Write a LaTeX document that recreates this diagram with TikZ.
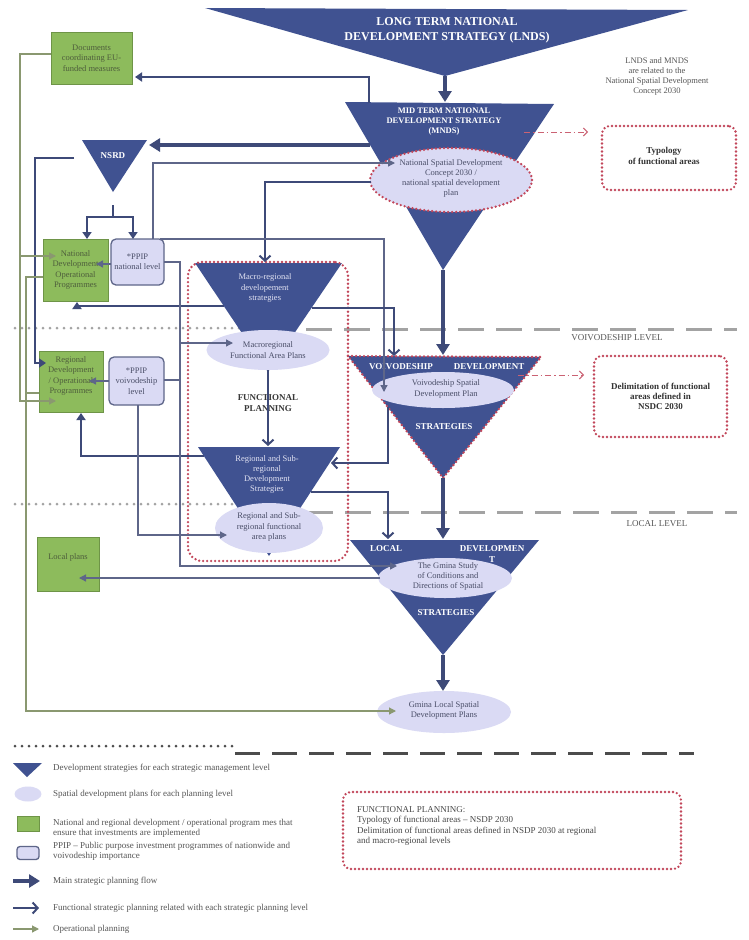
\documentclass[tikz,border=0pt]{standalone}
\usepackage{fontspec}
\setmainfont{Liberation Serif}
\usetikzlibrary{arrows.meta,shapes.geometric}
\definecolor{tri}{HTML}{405291}
\definecolor{navy}{HTML}{3E4A78}
\definecolor{slate}{HTML}{5E6689}
\definecolor{olive}{HTML}{8A9870}
\definecolor{lav}{HTML}{DADAF4}
\definecolor{grn}{HTML}{8DBB5C}
\definecolor{grnb}{HTML}{6E9447}
\definecolor{grntxt}{HTML}{4E5E3C}
\definecolor{redd}{HTML}{C2465A}
\definecolor{lvl}{HTML}{A3A3A3}
\definecolor{tritxt}{HTML}{E2E3F3}
\definecolor{elltxt}{HTML}{4A4E68}
\definecolor{graytxt}{HTML}{555555}
\begin{document}
\begin{tikzpicture}[x=1pt,y=-1pt,
  trifill/.style={fill=tri,draw=none},
  tritext/.style={text=tritxt,font=\fontsize{8.5}{10.3}\selectfont,align=center,inner sep=0pt},
  tribold/.style={text=white,font=\bfseries\fontsize{9}{10}\selectfont,align=center,inner sep=0pt},
  ell/.style={ellipse,fill=lav,draw=none,inner sep=0pt},
  elltext/.style={text=elltxt,font=\fontsize{8.5}{10.3}\selectfont,align=center,inner sep=0pt},
  grnbox/.style={rectangle,fill=grn,draw=grnb,line width=0.8pt,inner sep=0pt,text=grntxt,font=\fontsize{8.5}{10.3}\selectfont,align=center},
  ppipbox/.style={rectangle,rounded corners=5pt,fill=lav,draw=slate,line width=1.3pt,inner sep=0pt,text=elltxt,font=\fontsize{8.5}{10.3}\selectfont,align=center},
  reddot/.style={draw=redd,line width=2.6pt,dash pattern=on 0pt off 4pt,line cap=round},
  mainarr/.style={draw=navy,line width=3.6pt,-{Triangle[length=11pt,width=13pt]}},
  medarr/.style={draw=navy,line width=2pt,-{Triangle[length=7pt,width=9pt]}},
  funcarr/.style={draw=navy,line width=2pt,-{Straight Barb[length=5pt,width=11pt,line width=2pt]}},
  thinarr/.style={draw=slate,line width=1.3pt,-{Triangle[length=7pt,width=7pt]}},
  thinline/.style={draw=slate,line width=1.3pt},
  oparr/.style={draw=olive,line width=1.2pt,-{Triangle[length=7pt,width=7pt]}},
  opline/.style={draw=olive,line width=1.2pt},
  dashdot/.style={draw=redd!85,line width=1pt,dash pattern=on 6pt off 3pt on 1.5pt off 3pt,-{Straight Barb[length=4pt,width=8pt]}},
  lvldot/.style={draw=lvl,line width=3pt,dash pattern=on 0pt off 7pt,line cap=round},
  lvldash/.style={draw=lvl,line width=3pt,dash pattern=on 26pt off 12pt},
  lvltxt/.style={text=graytxt,font=\fontsize{9}{10}\selectfont,inner sep=0pt},
  note/.style={text=graytxt,font=\fontsize{8.5}{10}\selectfont,align=center,inner sep=0pt},
  boldnote/.style={text=black!80,font=\bfseries\fontsize{9}{10.3}\selectfont,align=center,inner sep=0pt},
  legtxt/.style={text=graytxt,font=\fontsize{9}{10.3}\selectfont,align=left,anchor=west,inner sep=0pt}
]
\fill[white] (0,0) rectangle (748,940);
\useasboundingbox (0,0) rectangle (748,940);

% level lines
\draw[lvldot] (15,328) -- (268,328);
\draw[lvldash] (268,329) -- (737,329);
\draw[lvldot] (15,504) -- (269,504);
\draw[lvldash] (269,512) -- (737,512);
\node[lvltxt] (voivlvl) at (617,338) {VOIVODESHIP LEVEL};
\node[lvltxt] (loclvl) at (657,524) {LOCAL LEVEL};

% LNDS
\coordinate (lndsL) at (205,8); \coordinate (lndsR) at (688,10); \coordinate (lndsB) at (445,76);
\fill[trifill] (lndsL) -- (lndsR) -- (lndsB) -- cycle;
\node[text=white,font=\bfseries\fontsize{12}{15}\selectfont,align=center,inner sep=0pt] (lndsT) at (447,30) {LONG TERM NATIONAL\\DEVELOPMENT STRATEGY (LNDS)};

\node[note] (relnote) at (657,76) {LNDS and MNDS\\are related to the\\National Spatial Development\\Concept 2030};

% MNDS
\coordinate (mndsL) at (345,102); \coordinate (mndsR) at (554,104); \coordinate (mndsB) at (443,270);
\fill[trifill] (mndsL) -- (mndsR) -- (mndsB) -- cycle;
\node[text=white,font=\bfseries\fontsize{8.5}{10}\selectfont,align=center,inner sep=0pt] (mndsT) at (444,122) {MID TERM NATIONAL\\DEVELOPMENT STRATEGY\\(MNDS)};
\node[ell,reddot,fill=lav,minimum width=162pt,minimum height=64pt] (nsdc) at (451,180) {};
\node[elltext] (nsdcT) at (451,178.5) {National Spatial Development\\Concept 2030 /\\national spatial development\\plan};

% Typology box
\node[reddot,rounded corners=8pt,minimum width=134pt,minimum height=64pt,inner sep=0pt] (typ) at (669,158) {};
\node[boldnote] (typT) at (664,156) {Typology\\of functional areas};

% NSRD
\coordinate (nsrdL) at (82,140); \coordinate (nsrdR) at (147,140); \coordinate (nsrdB) at (113,192);
\fill[trifill] (nsrdL) -- (nsrdR) -- (nsrdB) -- cycle;
\node[tribold] (nsrdT) at (113,156) {NSRD};

% Documents
\node[grnbox,minimum width=81pt,minimum height=52pt] (docs) at (91.5,58) {Documents\\coordinating EU-\\funded measures};

% National development OP
\node[grnbox,minimum width=65pt,minimum height=62pt] (natdev) at (75.5,270) {National\\Development\\Operational\\Programmes};
\node[ppipbox,minimum width=53pt,minimum height=46pt] (ppipn) at (137.5,262) {*PPIP\\national level};

% Regional development OP
\node[grnbox,minimum width=64pt,minimum height=61pt] (regdev) at (71,381.5) {};
\node[text=grntxt,font=\fontsize{8.5}{10.3}\selectfont,align=center,inner sep=0pt] (regdevT) at (71,376) {Regional\\Development\\/ Operational\\Programmes};
\node[ppipbox,minimum width=55pt,minimum height=48pt] (ppipv) at (136.5,381) {*PPIP\\voivodeship\\level};

% Local plans
\node[grnbox,minimum width=62pt,minimum height=54pt] (lplans) at (68,564) {};
\node[text=grntxt,font=\fontsize{8.5}{10.3}\selectfont,inner sep=0pt] (lplansT) at (68,557) {Local plans};

% Macro-regional
\coordinate (macroL) at (195,263); \coordinate (macroR) at (342,263); \coordinate (macroB) at (268,372);
\fill[trifill] (macroL) -- (macroR) -- (macroB) -- cycle;
\node[tritext] (macroT) at (265,288) {Macro-regional\\developement\\strategies};
\node[ell,minimum width=123pt,minimum height=40pt] (mfap) at (268,350) {};
\node[elltext] (mfapT) at (268,350) {Macroregional\\Functional Area Plans};
\node[boldnote,text=black!78] (fpT) at (268,403) {FUNCTIONAL\\PLANNING};

% Regional and sub-regional
\coordinate (regsubL) at (198,447); \coordinate (regsubR) at (340,447); \coordinate (regsubB) at (269,556);
\fill[trifill] (regsubL) -- (regsubR) -- (regsubB) -- cycle;
\node[tritext] (regsubT) at (267,474.5) {Regional and Sub-\\regional\\Development\\Strategies};
\node[ell,minimum width=108pt,minimum height=50pt] (rfap) at (269,528) {};
\node[elltext] (rfapT) at (269,527) {Regional and Sub-\\regional functional\\area plans};

% functional planning frame
\node[reddot,rounded corners=14pt,minimum width=160pt,minimum height=299pt,inner sep=0pt] (fpbox) at (268,411.5) {};

% Voivodeship
\coordinate (voivL) at (348,356); \coordinate (voivR) at (541,357); \coordinate (voivB) at (443,478);
\fill[trifill] (voivL) -- (voivR) -- (voivB) -- cycle;
\draw[reddot] (voivL) -- (voivR) -- (voivB) -- cycle;
\node[tribold] (voivT1) at (401,367) {VOIVODESHIP};
\node[tribold] (voivT2) at (489,367) {DEVELOPMENT};
\node[tribold] (voivT3) at (444,427) {STRATEGIES};
\node[ell,minimum width=142pt,minimum height=36pt] (vsdp) at (443,390) {};
\node[elltext] (vsdpT) at (446,389) {Voivodeship Spatial\\Development Plan};

% Delimitation box
\node[reddot,rounded corners=8pt,minimum width=133pt,minimum height=81pt,inner sep=0pt,boldnote] (delim) at (660.5,396.5) {Delimitation of functional\\areas defined in\\NSDC 2030};

% Local
\coordinate (localL) at (350,540); \coordinate (localR) at (539,540); \coordinate (localB) at (443,655);
\fill[trifill] (localL) -- (localR) -- (localB) -- cycle;
\node[tribold] (localT1) at (386,549) {LOCAL};
\node[tribold] (localT2) at (492,549) {DEVELOPMEN};
\node[tribold] (localT3) at (492,560) {T};
\node[tribold] (localT4) at (446,613) {STRATEGIES};
\node[ell,minimum width=134pt,minimum height=40pt] (gstudy) at (445,578) {};
\node[elltext] (gstudyT) at (448,576.5) {The Gmina Study\\of Conditions and\\Directions of Spatial};

\node[ell,minimum width=134pt,minimum height=42pt] (glocal) at (444,712) {};
\node[elltext] (glocalT) at (444,710.5) {Gmina Local Spatial\\Development Plans};

% ---------- connectors ----------
\coordinate (mndsTop) at (445,102);
\draw[mainarr] (lndsB) -- (mndsTop);

\coordinate (mndsDoc) at (369,103); \coordinate (docsIn) at (135,77);
\draw[medarr] (mndsDoc) |- (docsIn);

\coordinate (mndsW) at (370,145); \coordinate (nsrdE) at (149,145);
\draw[mainarr] (mndsW) -- (nsrdE);

\coordinate (nsrdW) at (74,158); \coordinate (regdevIn) at (46,363);
\draw[medarr] (nsrdW) -- (35,158) -- (35,363) -- (regdevIn);

\coordinate (nsrdStem) at (113,205); \coordinate (nsrdFork) at (113,217);
\coordinate (natdevTop) at (87,239); \coordinate (ppipnTop) at (133,239);
\draw[draw=navy,line width=2pt] (nsrdStem) -- (nsrdFork);
\draw[medarr] (nsrdFork) -| (natdevTop);
\draw[medarr] (nsrdFork) -| (ppipnTop);

\coordinate (ppipnW) at (111,264); \coordinate (natdevE) at (96,264);
\draw[thinarr] (ppipnW) -- (natdevE);

% operational planning
\coordinate (docsW) at (51,54); \coordinate (regdevOp) at (56,401); \coordinate (natdevOp) at (56,256);
\draw[oparr] (docsW) -- (20,54) -- (20,401) -- (regdevOp);
\draw[oparr] (20,256) -- (natdevOp);
\coordinate (natdevW) at (43,277); \coordinate (glocalIn) at (396,711); \coordinate (regdevW) at (39,393);
\draw[oparr] (natdevW) -- (26,277) -- (26,711) -- (glocalIn);
\draw[opline] (26,393) -- (regdevW);

\coordinate (macroW) at (224,306); \coordinate (natdevS) at (77,302);
\draw[medarr] (macroW) -| (natdevS);
\coordinate (regsubW) at (204,456); \coordinate (regdevS) at (81,413);
\draw[medarr] (regsubW) -| (regdevS);

\coordinate (ppipvW) at (109,381); \coordinate (regdevE) at (89,381);
\draw[thinarr] (ppipvW) -- (regdevE);

\coordinate (ppipnN) at (153,239); \coordinate (nsdcIn) at (395,163);
\draw[thinarr] (ppipnN) |- (nsdcIn);

\coordinate (nsdcW) at (371,182); \coordinate (macroN) at (265,262);
\draw[funcarr] (nsdcW) -| (macroN);

\coordinate (ppipnNE) at (160,239); \coordinate (vsdpIn) at (384,392);
\draw[thinarr] (ppipnNE) -| (vsdpIn);

\coordinate (ppipnE) at (164,262); \coordinate (mfapIn) at (233,343); \coordinate (gstudyIn) at (397,566);
\draw[thinarr] (ppipnE) -- (180,262) -- (180,566) -- (gstudyIn);
\draw[thinarr] (180,343) -- (mfapIn);
\coordinate (ppipvE) at (164,380);
\draw[thinline] (ppipvE) -- (180,380);

\coordinate (ppipvS) at (138,405); \coordinate (rfapIn) at (227,535);
\draw[thinarr] (ppipvS) |- (rfapIn);

\coordinate (macroE) at (312,308); \coordinate (voivN) at (394,356);
\draw[funcarr] (macroE) -| (voivN);

\coordinate (voivW) at (388,407); \coordinate (regsubE) at (331,463);
\draw[funcarr] (voivW) |- (regsubE);

\coordinate (regsubE2) at (311,492); \coordinate (localN) at (388,539);
\draw[funcarr] (regsubE2) -| (localN);

\coordinate (regsubN) at (268,446);
\draw[funcarr] (mfap.south) -- (regsubN);

\coordinate (voivTop) at (443,355);
\draw[mainarr] (mndsB) -- (voivTop);
\coordinate (localTop) at (443,539);
\draw[mainarr] (voivB) -- (localTop);
\coordinate (glocalN) at (443,691);
\draw[mainarr] (localB) -- (glocalN);

\coordinate (localW) at (380,578); \coordinate (lplansIn) at (79,578);
\draw[thinarr] (localW) -- (lplansIn);

\coordinate (mndsE) at (524,132); \coordinate (typIn) at (588,132);
\draw[dashdot] (mndsE) -- (typIn);
\coordinate (voivE) at (518,375); \coordinate (delimIn) at (584,375);
\draw[dashdot] (voivE) -- (delimIn);

% ---------- legend ----------
\draw[draw=black!70,line width=3pt,dash pattern=on 0pt off 7pt,line cap=round] (15,746) -- (233,746);
\draw[draw=black!70,line width=3pt,dash pattern=on 25pt off 12pt] (235,753) -- (694,753);

\coordinate (legTL) at (13,763); \coordinate (legTR) at (42,763); \coordinate (legTB) at (27,777);
\fill[trifill] (legTL) -- (legTR) -- (legTB) -- cycle;
\node[legtxt] (leg1) at (53,768) {Development strategies for each strategic management level};

\node[ell,minimum width=27pt,minimum height=15pt] (legell) at (28,794) {};
\node[legtxt] (leg2) at (53,794) {Spatial development plans for each planning level};

\node[grnbox,minimum width=22pt,minimum height=15pt] (leggrn) at (28,824) {};
\node[legtxt] (leg3) at (53,828) {National and regional development / operational program mes that\\ensure that investments are implemented};

\node[ppipbox,rounded corners=3pt,minimum width=22pt,minimum height=13pt] (legppip) at (28,853) {};
\node[legtxt] (leg4) at (53,851) {PPIP – Public purpose investment programmes of nationwide and\\voivodeship importance};

\coordinate (legA1) at (13,881); \coordinate (legA2) at (40,881);
\draw[mainarr] (legA1) -- (legA2);
\node[legtxt] (leg5) at (53,881) {Main strategic planning flow};

\coordinate (legB1) at (13,908); \coordinate (legB2) at (39,908);
\draw[funcarr] (legB1) -- (legB2);
\node[legtxt] (leg6) at (53,908) {Functional strategic planning related with each strategic planning level};

\coordinate (legC1) at (13,929); \coordinate (legC2) at (39,929);
\draw[oparr] (legC1) -- (legC2);
\node[legtxt] (leg7) at (53,929) {Operational planning};

\node[reddot,rounded corners=8pt,minimum width=338pt,minimum height=77pt,inner sep=0pt] (legfp) at (512,830.5) {};
\node[legtxt,text=black!72] (legfpT) at (357,826) {FUNCTIONAL PLANNING:\\Typology of functional areas – NSDP 2030\\Delimitation of functional areas defined in NSDP 2030 at regional\\and macro-regional levels};
\end{tikzpicture}
\end{document}
